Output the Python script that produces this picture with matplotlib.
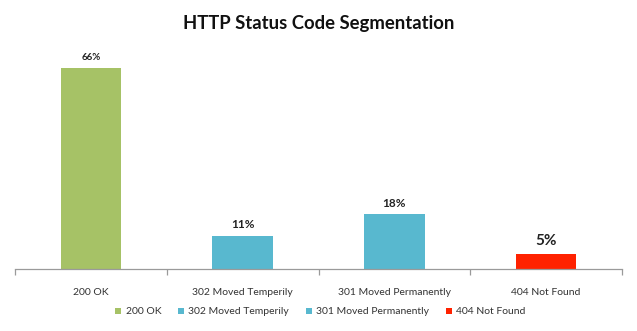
import matplotlib
matplotlib.use("Agg")
import matplotlib.pyplot as plt
from matplotlib.patches import Patch

categories = ["200 OK", "302 Moved Temperily", "301 Moved Permanently", "404 Not Found"]
values = [66, 11, 18, 5]
labels = ["66%", "11%", "18%", "5%"]
colors = ["#A6C266", "#58B8CF", "#58B8CF", "#FF2200"]
label_sizes = [7, 8.5, 8.5, 11]

plt.rcParams["font.family"] = ["Lato", "DejaVu Sans"]

fig = plt.figure(figsize=(6.37, 3.31), dpi=100)
ax = fig.add_axes([15 / 637, 1 - 269 / 331, (622 - 15) / 637, 243.6 / 331])

x = list(range(len(categories)))
bars = ax.bar(x, values, width=0.4, color=colors, edgecolor="none", zorder=2)
for b, v, lab, fs in zip(bars, values, labels, label_sizes):
    ax.annotate(lab, (b.get_x() + b.get_width() / 2, v), xytext=(0, 4),
                textcoords="offset points", ha="center", va="bottom",
                fontsize=fs, fontweight="bold", color="#222222")

ax.set_xlim(-0.5, len(categories) - 0.5)
ax.set_ylim(0, 80)
ax.set_yticks([])
for s in ["top", "right", "left"]:
    ax.spines[s].set_visible(False)
ax.spines["bottom"].set_color("#9A9A9A")
ax.spines["bottom"].set_linewidth(0.9)

ax.set_xticks(x)
ax.set_xticklabels(categories, fontsize=7.5, color="#333333")
ax.tick_params(axis="x", which="major", length=0, pad=14)
ax.set_xticks([i - 0.5 for i in range(len(categories) + 1)], minor=True)
ax.tick_params(axis="x", which="minor", length=4, color="#9A9A9A", width=0.9)

fig.text(0.5, 1 - 23 / 331, "HTTP Status Code Segmentation", ha="center", va="center",
         fontsize=13.3, fontweight="bold", color="#111111")

handles = [Patch(facecolor=c, edgecolor="none") for c in colors]
fig.legend(handles, categories, loc="center", bbox_to_anchor=(0.503, 1 - 312 / 331),
           ncol=4, frameon=False, fontsize=7.5, handlelength=0.6, handleheight=0.6,
           handletextpad=0.4, columnspacing=1.6, labelcolor="#333333")

fig.savefig("out.png", dpi=100, facecolor="white")
